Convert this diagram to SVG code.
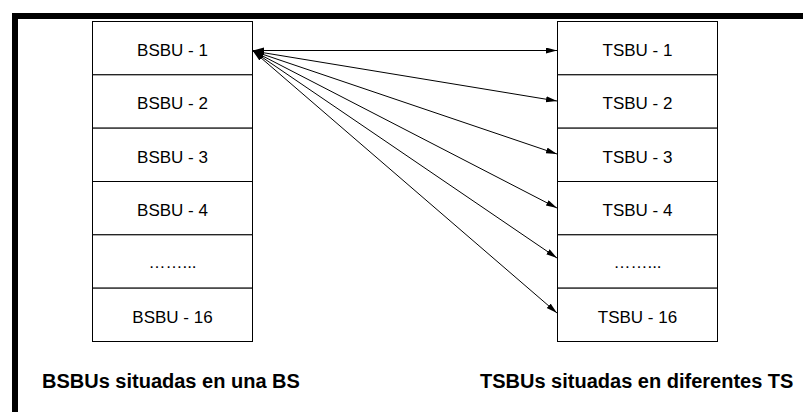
<svg xmlns="http://www.w3.org/2000/svg" width="803" height="412" viewBox="0 0 803 412">
<style>
.box{fill:#fff;stroke:#000;stroke-width:1}
.t{font-family:"Liberation Sans",Arial,sans-serif;font-size:17px;fill:#000;text-anchor:middle}
.lbl{font-family:"Liberation Sans",Arial,sans-serif;font-size:20px;font-weight:bold;fill:#000}
.c{stroke:#000;stroke-width:1;fill:none;marker-end:url(#ah);marker-start:url(#ah)}
</style>
<defs>
<marker id="ah" markerUnits="userSpaceOnUse" markerWidth="12" markerHeight="8" refX="11" refY="3" orient="auto-start-reverse">
<path d="M0,0 L11,3 L0,6 z" fill="#000"/>
</marker>
</defs>
<rect width="803" height="412" fill="#fff"/>
<g id="frame">
<path d="M15,412 V16 H803" fill="none" stroke="#000" stroke-width="6"/>
</g>
<g id="bs">
<g id="bsbu-1"><rect class="box" x="92.5" y="21.5" width="160" height="53.33"/><text class="t" x="172.5" y="56">BSBU - 1</text></g>
<g id="bsbu-2"><rect class="box" x="92.5" y="74.83" width="160" height="53.33"/><text class="t" x="172.5" y="109.3">BSBU - 2</text></g>
<g id="bsbu-3"><rect class="box" x="92.5" y="128.17" width="160" height="53.33"/><text class="t" x="172.5" y="162.7">BSBU - 3</text></g>
<g id="bsbu-4"><rect class="box" x="92.5" y="181.5" width="160" height="53.33"/><text class="t" x="172.5" y="216">BSBU - 4</text></g>
<g id="bsbu-dots"><rect class="box" x="92.5" y="234.83" width="160" height="53.33"/><text class="t" x="172.5" y="268">……...</text></g>
<g id="bsbu-16"><rect class="box" x="92.5" y="288.17" width="160" height="53.33"/><text class="t" x="172.5" y="322.7">BSBU - 16</text></g>
</g>
<g id="ts">
<g id="tsbu-1"><rect class="box" x="557.5" y="21.5" width="160" height="53.33"/><text class="t" x="637.5" y="56">TSBU - 1</text></g>
<g id="tsbu-2"><rect class="box" x="557.5" y="74.83" width="160" height="53.33"/><text class="t" x="637.5" y="109.3">TSBU - 2</text></g>
<g id="tsbu-3"><rect class="box" x="557.5" y="128.17" width="160" height="53.33"/><text class="t" x="637.5" y="162.7">TSBU - 3</text></g>
<g id="tsbu-4"><rect class="box" x="557.5" y="181.5" width="160" height="53.33"/><text class="t" x="637.5" y="216">TSBU - 4</text></g>
<g id="tsbu-dots"><rect class="box" x="557.5" y="234.83" width="160" height="53.33"/><text class="t" x="637.5" y="268">……...</text></g>
<g id="tsbu-16"><rect class="box" x="557.5" y="288.17" width="160" height="53.33"/><text class="t" x="637.5" y="322.7">TSBU - 16</text></g>
</g>
<g id="connectors">
<line class="c" x1="253" y1="50.5" x2="557" y2="50.5"/>
<line class="c" x1="253" y1="51" x2="557" y2="101"/>
<line class="c" x1="253" y1="51" x2="557" y2="154"/>
<line class="c" x1="253" y1="51" x2="557" y2="208"/>
<line class="c" x1="253" y1="51" x2="557" y2="258"/>
<line class="c" x1="253" y1="51" x2="557" y2="313"/>
</g>
<g id="labels">
<text class="lbl" x="42" y="388">BSBUs situadas en una BS</text>
<text class="lbl" x="480" y="388">TSBUs situadas en diferentes TS</text>
</g>
</svg>
